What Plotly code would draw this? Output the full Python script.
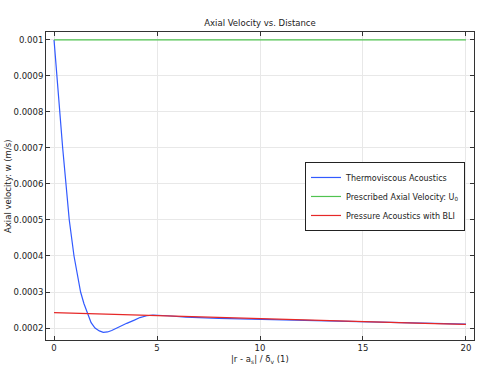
import plotly.graph_objects as go

# Thermoviscous Acoustics (blue)
tv_x = [0, 0.13, 0.26, 0.42, 0.58, 0.74, 0.97, 1.29, 1.45, 1.63, 1.8, 1.99, 2.2, 2.39,
        2.6, 2.8, 3.1, 3.53, 3.9, 4.17, 4.5, 4.8, 5.5, 6.4, 8, 10, 12, 14, 16, 18, 20]
tv_y = [0.001, 0.0009, 0.0008, 0.0007, 0.0006, 0.0005, 0.0004, 0.0003, 0.000268, 0.000241,
        0.000215, 0.0002, 0.000192, 0.000188, 0.000189, 0.000193, 0.000202, 0.000213,
        0.000222, 0.000229, 0.000234, 0.000236, 0.000234, 0.000230, 0.000227, 0.000224,
        0.000221, 0.000218, 0.000216, 0.000213, 0.000211]

# Prescribed Axial Velocity (green)
pr_x = [0, 20]
pr_y = [0.001, 0.001]

# Pressure Acoustics with BLI (red)
pa_x = [0, 2, 4, 6, 8, 10, 12, 14, 16, 18, 20]
pa_y = [0.0002425, 0.000239, 0.0002355, 0.000232, 0.0002285, 0.0002255, 0.0002225,
        0.0002195, 0.0002165, 0.000213, 0.00021]

x_ticks = [0, 5, 10, 15, 20]
y_ticks = [0.0002, 0.0003, 0.0004, 0.0005, 0.0006, 0.0007, 0.0008, 0.0009, 0.001]
y_tick_labels = ["0.0002", "0.0003", "0.0004", "0.0005", "0.0006", "0.0007",
                 "0.0008", "0.0009", "0.001"]

FONT = "DejaVu Sans"

fig = go.Figure()
fig.add_trace(go.Scatter(x=tv_x, y=tv_y, mode="lines", name="Thermoviscous Acoustics",
                         line=dict(color="rgb(50,90,255)", width=1.2)))
fig.add_trace(go.Scatter(x=pr_x, y=pr_y, mode="lines",
                         name="Prescribed Axial Velocity: U<sub>0</sub>",
                         line=dict(color="rgb(80,195,80)", width=1.2)))
fig.add_trace(go.Scatter(x=pa_x, y=pa_y, mode="lines", name="Pressure Acoustics with BLI",
                         line=dict(color="rgb(230,40,40)", width=1.2)))

axis_common = dict(showline=True, linecolor="#333", linewidth=1, mirror="allticks",
                   ticks="inside", ticklen=4, tickcolor="#333",
                   showgrid=True, gridcolor="#e8e8e8", gridwidth=1, zeroline=False,
                   tickfont=dict(family=FONT, size=8.5, color="#222"))

fig.update_layout(
    width=479, height=366,
    margin=dict(l=46, r=5, t=32, b=26),
    paper_bgcolor="white", plot_bgcolor="white",
    font=dict(family=FONT, size=8.5, color="#222"),
    title=dict(text="Axial Velocity vs. Distance", xref="paper", x=0.5, xanchor="center",
               y=1 - 23 / 366, yanchor="middle", font=dict(family=FONT, size=8.5)),
    xaxis=dict(range=[-0.39, 20.39], tickvals=x_ticks, **axis_common),
    yaxis=dict(range=[0.0001667, 0.001022], tickvals=y_ticks, ticktext=y_tick_labels,
               **axis_common),
    showlegend=True,
    legend=dict(x=0.979, xanchor="right", y=0.578, yanchor="top",
                bgcolor="white", bordercolor="#222", borderwidth=1,
                font=dict(family=FONT, size=8), tracegroupgap=0,
                itemwidth=30),
    annotations=[
        dict(text="|r - a<sub>s</sub>| / δ<sub>v</sub> (1)", xref="paper", yref="paper",
             x=0.5, y=-12 / 308, yanchor="top", xanchor="center", showarrow=False,
             font=dict(family=FONT, size=8.5)),
        dict(text="Axial velocity: w (m/s)", xref="paper", yref="paper",
             x=-38 / 428, y=0.5, textangle=-90, xanchor="center", yanchor="middle",
             showarrow=False, font=dict(family=FONT, size=8.5)),
    ],
)

fig.write_html("out.html", config={"displayModeBar": False},
               post_script="document.body.style.margin='0';")
